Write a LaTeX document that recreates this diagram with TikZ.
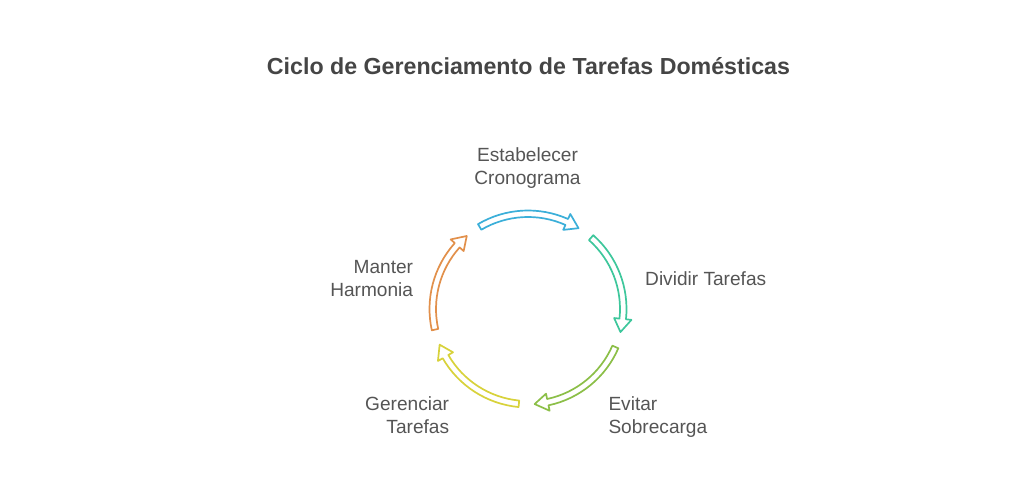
\documentclass[tikz,border=0pt]{standalone}
\usepackage{fontspec}
\setmainfont{Liberation Sans}
\definecolor{cblue}{HTML}{3BAFD9}
\definecolor{cteal}{HTML}{3EC79C}
\definecolor{cgreen}{HTML}{8CBF48}
\definecolor{cyellow}{HTML}{D8D23B}
\definecolor{corange}{HTML}{E2904B}
\definecolor{titlegray}{HTML}{454545}
\definecolor{labelgray}{HTML}{555555}
\begin{document}
\begin{tikzpicture}[x=1pt,y=1pt,
  arrowline/.style={line width=1.7pt, line join=round, fill=white},
  title/.style={inner sep=0pt, text=titlegray, font=\fontsize{23.2}{28}\selectfont\bfseries},
  label/.style={inner sep=0pt, text=labelgray, font=\fontsize{19.1}{23.3}\selectfont}]
\fill[white] (0,0) rectangle (1024,487);
\useasboundingbox (0,0) rectangle (1024,487);
\coordinate (O) at (528,178);
\node[title, anchor=base] (title) at (528.5,412) {Ciclo de Gerenciamento de Tarefas Domésticas};
\foreach \c/\col in {90/cblue, 18/cteal, -54/cgreen, -126/cyellow, 162/corange}{
  \pgfmathsetmacro\ta{\c+30.5}
  \pgfmathsetmacro\hb{\c-24}
  \pgfmathsetmacro\tp{\c-32}
  \draw[\col, arrowline] ([shift={(O)}]\ta:98.5) arc[start angle=\ta, end angle=\hb, radius=98.5]
    -- ([shift={(O)}]\hb:104) -- ([shift={(O)}]\tp:95.3) -- ([shift={(O)}]\hb:86.6)
    -- ([shift={(O)}]\hb:92) arc[start angle=\hb, end angle=\ta, radius=92] -- cycle;
}
\node[label, anchor=base, align=center] (l1) at (527.5,302) {Estabelecer\\Cronograma};
\node[label, anchor=base west] (l2) at (645,201.3) {Dividir Tarefas};
\node[label, anchor=base west, align=left] (l3) at (608.3,53.7) {Evitar\\Sobrecarga};
\node[label, anchor=base east, align=right] (l4) at (449.3,53.7) {Gerenciar\\Tarefas};
\node[label, anchor=base east, align=right] (l5) at (413.3,190.3) {Manter\\Harmonia};
\end{tikzpicture}
\end{document}
